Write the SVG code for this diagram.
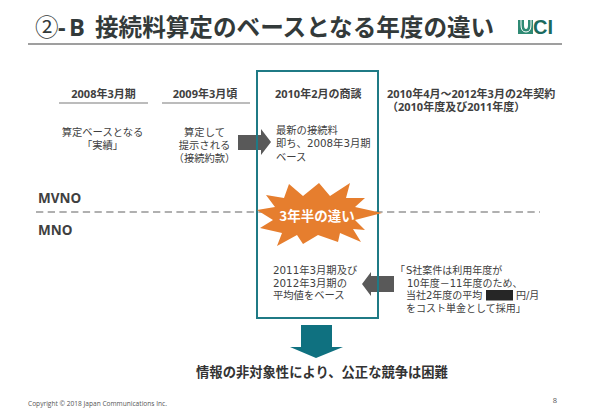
<svg xmlns="http://www.w3.org/2000/svg" width="590" height="417" viewBox="0 0 590 417">
<style>
text{font-family:"Noto Sans CJK JP","Noto Sans",sans-serif;fill:#404040}
.t{font-family:"DejaVu Sans","Noto Sans CJK JP",sans-serif;font-size:10.3px}
.r{font-size:10px}
.h{font-family:"Open Sans","Noto Sans CJK JP",sans-serif;font-size:11px;font-weight:700}
.m{text-anchor:middle}
.net{font-family:"Open Sans",sans-serif;font-size:13.500px;font-weight:700}
.rule{stroke:#a6a6a6;stroke-width:1.5;fill:none}
.ga{fill:#595959}
.ta{fill:#0f7180}
</style>
<rect width="590" height="417" fill="#fff"/>
<g id="title">
<text y="35.500" style="font-size:23.600px;font-weight:700;fill:#333a3a"><tspan x="35" style="font-weight:400">②</tspan><tspan x="58 69" style="font-family:'Open Sans','Noto Sans CJK JP',sans-serif">-B</tspan><tspan x="95">接続料算定のベースとなる年度の違い</tspan></text>
<line x1="28" y1="44" x2="562" y2="44" stroke="#7f7f7f" stroke-width="1.5"/>
</g>
<g id="logo">
<rect x="518" y="20" width="15" height="14" fill="#2f8a74"/>
<path d="M521 20V25Q521 32 526 32Q531 32 531 25V20" fill="none" stroke="#fff" stroke-width="1"/>
<path d="M524 20V25Q524 29 526 29Q528 29 528 25V20Z" fill="#fff"/>
<text x="533" y="34" style="font-family:'Liberation Sans',sans-serif;font-size:20px;font-weight:700;fill:#1c6a5e">CI</text>
</g>
<g id="col-2008">
<text x="103.500" y="98" class="h m">2008年3月期</text>
<line x1="59" y1="103" x2="148" y2="103" class="rule"/>
<text class="t m"><tspan x="102.500" y="136">算定ベースとなる</tspan><tspan x="102.500" y="149">「実績」</tspan></text>
</g>
<g id="col-2009">
<text x="205" y="98" class="h m">2009年3月頃</text>
<line x1="162" y1="103" x2="250" y2="103" class="rule"/>
<text class="t m"><tspan x="204.500" y="136">算定して</tspan><tspan x="204.500" y="149">提示される</tspan><tspan x="204.500" y="162">（接続約款）</tspan></text>
</g>
<g id="connectors">
<line x1="36" y1="212" x2="540" y2="212" stroke="#969696" stroke-width="1.5" stroke-dasharray="7.300 4.400"/>
<path class="ga" d="M238 135H261V129L271 142L261 155V150H238Z"/>
<path class="ga" d="M394 276H371V272L362 284L371 296V292H394Z"/>
<path class="ta" d="M301 325H332V347H343L316 358L290 347H301Z"/>
</g>
<g id="col-2010-box">
<rect x="257" y="71" width="121" height="247" fill="none" stroke="#1f7a85" stroke-width="2"/>
<text x="275" y="98" class="h">2010年2月の商談</text>
<text class="t"><tspan x="276" y="134">最新の接続料</tspan><tspan x="276" y="147">即ち、2008年3月期</tspan><tspan x="276" y="161">ベース</tspan></text>
<text class="t"><tspan x="273" y="274">2011年3月期及び</tspan><tspan x="273" y="286.500">2012年3月期の</tspan><tspan x="273" y="299">平均値をベース</tspan></text>
</g>
<g id="col-contract">
<text class="h"><tspan x="387" y="98">2010年4月～2012年3月の2年契約</tspan><tspan x="387" y="110.500">（2010年度及び2011年度）</tspan></text>
<text class="t r"><tspan x="395" y="274">「</tspan><tspan x="406" y="274">S社案件は利用年度が</tspan><tspan x="407" y="286.500">10年度－11年度のため、</tspan><tspan x="406" y="299">当社2年度の平均</tspan><tspan x="516" y="299">円/月</tspan><tspan x="406" y="311.500">をコスト単金として採用」</tspan></text>
<rect x="486" y="290" width="27" height="10.500" fill="#262626"/>
</g>
<g id="labels-side">
<text x="38" y="203" class="net">MVNO</text>
<text x="38" y="235" class="net">MNO</text>
</g>
<g id="burst">
<path fill="#e67e2e" d="M257 210L275 207L266 195L284 198L289 184L303 196L319 183L330 196L350 183L346 198L365 198L355 207L382 213L355 220L365 230L353 229L361 242L340 233L338 242L318 235L303 244L297 235L277 246L282 233L260 228L273 220Z"/>
<text x="317" y="221" class="m" style="font-size:13.500px;font-weight:700;fill:#fff">3年半の違い</text>
</g>
<g id="conclusion">
<text x="322" y="377" class="m" style="font-size:13.300px;font-weight:700;fill:#333">情報の非対象性により、公正な競争は困難</text>
</g>
<g id="footer">
<text x="28" y="405.500" style="font-size:6.600px;font-family:'Open Sans',sans-serif;fill:#555">Copyright © 2018 Japan Communications Inc.</text>
<text x="555" y="403" class="m" style="font-size:7.500px;font-family:'Open Sans',sans-serif;fill:#555">8</text>
</g>
</svg>
